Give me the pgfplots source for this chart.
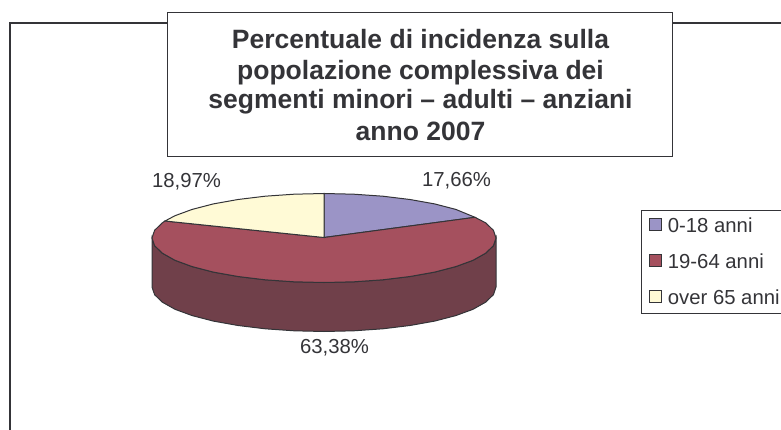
\documentclass[border=0pt]{standalone}
\usepackage{pgfplots}
\pgfplotsset{compat=1.18}
\usepackage{fontspec}
\setmainfont{Liberation Sans}
\definecolor{sliceblue}{RGB}{155,148,198}
\definecolor{slicered}{RGB}{165,80,94}
\definecolor{sidered}{RGB}{112,64,74}
\definecolor{sliceyellow}{RGB}{255,250,214}
\definecolor{ink}{RGB}{52,52,56}
\begin{document}
\begin{tikzpicture}[x=1pt,y=1pt]
\path[use as bounding box] (0,0) rectangle (781,430);
\begin{axis}[
    at={(0,0)}, anchor=south west,
    width=781pt, height=430pt, scale only axis,
    xmin=0, xmax=781, ymin=0, ymax=430,
    y dir=reverse,
    hide axis,
    clip=false,
    legend style={at={(axis cs:641,210)}, anchor=north west, draw=ink, line width=0.8pt,
        font=\fontsize{20.3}{24}\selectfont, text=ink, fill=white, row sep=16pt,
        inner xsep=8pt, inner ysep=5pt, cells={anchor=west}},
    legend image code/.code={\path[draw=none,fill=none] (0pt,0pt) -- (16pt,0pt);\draw[#1,draw=ink,line width=1pt] (0pt,-5pt) rectangle (12pt,7pt);},
]
% chart frame, runs off the page right and bottom
\addplot[draw=ink, line width=1.2pt, forget plot] coordinates {(10,430) (10,23) (781,23)};
% side wall
\addplot[fill=sidered, draw=ink, line width=1pt, forget plot] coordinates {
(152,238)(154.6,245.7)(162.4,253.2)(175,260.3)(192.2,266.6)(213.4,272.1)(238,276.5)(265.2,279.8)(294.1,281.8)(324,282.5)
(353.9,281.8)(382.8,279.8)(410,276.5)(434.6,272.1)(455.8,266.6)(473,260.3)(485.6,253.2)(493.4,245.7)(496,238)
(496,287)(493.4,294.7)(485.6,302.2)(473,309.3)(455.8,315.6)(434.6,321.1)(410,325.5)(382.8,328.8)(353.9,330.8)(324,331.5)
(294.1,330.8)(265.2,328.8)(238,325.5)(213.4,321.1)(192.2,315.6)(175,309.3)(162.4,302.2)(154.6,294.7)(152,287)
} -- cycle;
% 0-18 anni
\addplot[fill=sliceblue, draw=ink, line width=1pt] coordinates {
(324,237.5)(324,193.5)(353.9,194.2)(382.8,196.2)(410,199.5)(434.6,203.9)(455.8,209.4)(475,217.3)
} -- cycle;
% 19-64 anni
\addplot[fill=slicered, draw=ink, line width=1pt] coordinates {
(324,237.5)(475,217.3)(485.6,222.8)(493.4,230.3)(496,238)(493.4,245.7)(485.6,253.2)(473,260.3)(455.8,266.6)(434.6,272.1)
(410,276.5)(382.8,279.8)(353.9,281.8)(324,282.5)(294.1,281.8)(265.2,279.8)(238,276.5)(213.4,272.1)(192.2,266.6)
(175,260.3)(162.4,253.2)(154.6,245.7)(152,238)(154.6,230.3)(162.4,222.8)(165,221)
} -- cycle;
% over 65 anni
\addplot[fill=sliceyellow, draw=ink, line width=1pt] coordinates {
(324,237.5)(165,221)(175,215.7)(192.2,209.4)(213.4,203.9)(238,199.5)(265.2,196.2)(294.1,194.2)(324,193.5)
} -- cycle;
\legend{0-18 anni,19-64 anni,over 65 anni}
% title box
\node[draw=ink, line width=1pt, fill=white, minimum width=505pt, minimum height=144pt, anchor=north west, inner sep=0pt]
    at (axis cs:167,12) {};
\node[align=center, text=ink, anchor=center, font=\bfseries\fontsize{26.5}{31}\selectfont] at (axis cs:420.5,85.5)
    {Percentuale di incidenza sulla\\popolazione complessiva dei\\[-2pt]segmenti minori -- adulti -- anziani\\[1pt]anno 2007};
\node[text=ink, font=\fontsize{20.3}{24}\selectfont] at (axis cs:186.5,182) {18,97\%};
\node[text=ink, font=\fontsize{20.3}{24}\selectfont] at (axis cs:456.5,180.5) {17,66\%};
\node[text=ink, font=\fontsize{20.3}{24}\selectfont] at (axis cs:334.5,348) {63,38\%};
\end{axis}
\end{tikzpicture}
\end{document}
